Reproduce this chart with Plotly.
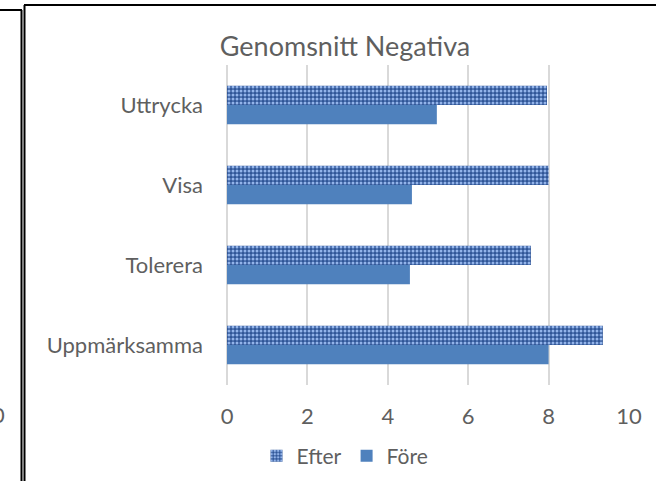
import plotly.graph_objects as go

# Categories listed bottom to top, as they appear on the vertical axis
categories = ["Uppmärksamma", "Tolerera", "Visa", "Uttrycka"]
fore_values = [8.0, 4.55, 4.6, 5.22]
efter_values = [9.35, 7.56, 8.0, 7.96]
x_ticks = [0, 2, 4, 6, 8, 10]

W, H = 656, 481
L, R, T, B = 227, 27, 65, 96
pw, ph = W - L - R, H - T - B


def px(x):
    return (x - L) / pw


def py(y):
    return 1 - (y - T) / ph


text_color = "#5f5f5f"
font_family = "Lato, Calibri, Carlito, sans-serif"

fig = go.Figure()
fig.add_trace(go.Bar(
    y=categories, x=fore_values, name="Före", orientation="h",
    marker=dict(color="#4f81bd", line=dict(width=0)),
))
fig.add_trace(go.Bar(
    y=categories, x=efter_values, name="Efter", orientation="h",
    marker=dict(
        color="#34599b", line=dict(width=0),
        pattern=dict(shape=".", fgcolor="#93b4ea", bgcolor="#2f5597",
                     size=4, solidity=0.45, fillmode="replace"),
    ),
))

fig.update_layout(
    width=W, height=H,
    margin=dict(l=L, r=R, t=T, b=B, autoexpand=False),
    paper_bgcolor="white", plot_bgcolor="white",
    barmode="group", bargap=0.52, bargroupgap=0,
    font=dict(family=font_family, size=22, color=text_color),
    title=dict(text="Genomsnitt Negativa", x=345 / W,
               xanchor="center", y=1 - 47 / H, yanchor="middle",
               font=dict(size=27, color=text_color)),
    showlegend=True,
    legend=dict(orientation="h", traceorder="reversed",
                x=(345 - L) / pw, xanchor="center", y=py(456), yanchor="middle",
                font=dict(size=21, color=text_color),
                itemwidth=30, tracegroupgap=0),
    xaxis=dict(range=[0, 10], tickvals=x_ticks, showgrid=True,
               gridcolor="#d9d9d9", gridwidth=1.5, zeroline=True,
               zerolinecolor="#d9d9d9", zerolinewidth=1.5,
               showline=False, ticks="", ticklabelstandoff=16,
               tickfont=dict(size=22, color=text_color)),
    yaxis=dict(categoryorder="array", categoryarray=categories,
               showgrid=False, showline=False, ticks="",
               ticklabelstandoff=23,
               tickfont=dict(size=22, color=text_color)),
)

# Frame lines of the chart boxes
line_style = dict(color="black", width=2)
shapes = [
    dict(type="line", xref="paper", yref="paper",
         x0=px(0), x1=px(22), y0=py(10), y1=py(10), line=line_style),
    dict(type="line", xref="paper", yref="paper",
         x0=px(21.5), x1=px(21.5), y0=py(10), y1=py(481), line=line_style),
    dict(type="line", xref="paper", yref="paper",
         x0=px(24.5), x1=px(24.5), y0=py(5), y1=py(481), line=line_style),
    dict(type="line", xref="paper", yref="paper",
         x0=px(24), x1=px(656), y0=py(5), y1=py(5), line=line_style),
]
fig.update_layout(shapes=shapes)

# Tick label of the neighbouring chart, cut at the left edge
fig.add_annotation(text="0", xref="paper", yref="paper",
                   x=px(7), y=py(414), xanchor="right", yanchor="middle",
                   showarrow=False, font=dict(size=22, color=text_color))

fig.write_html("out.html")
